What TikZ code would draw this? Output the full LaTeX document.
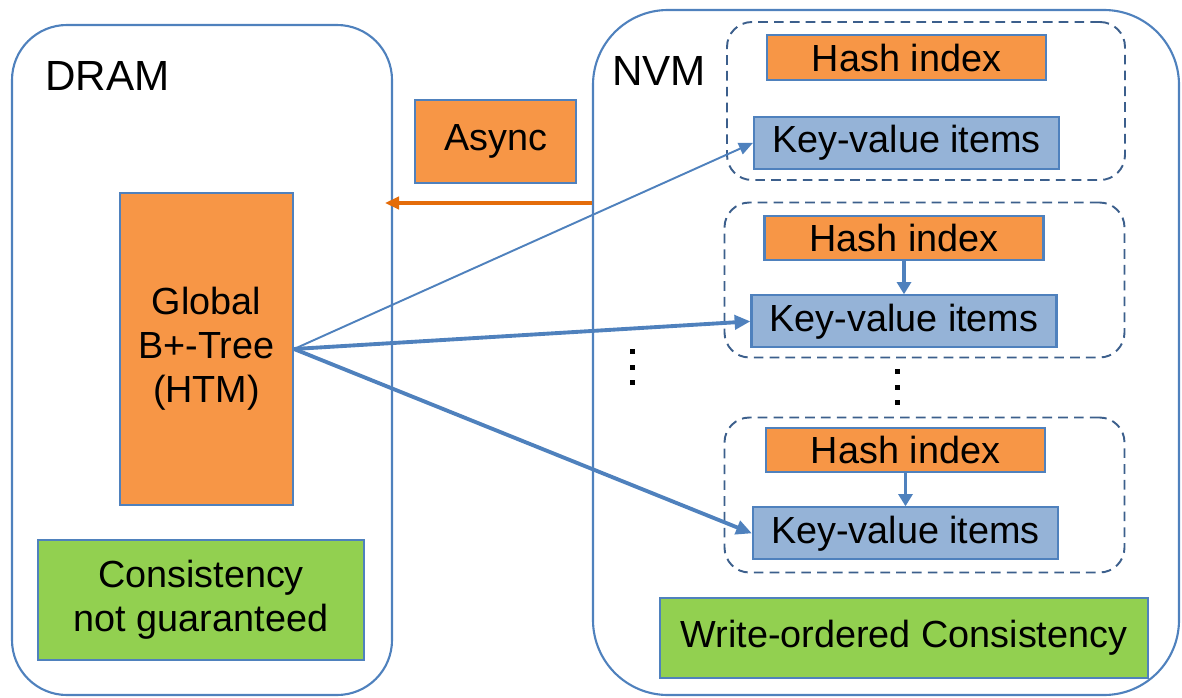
\documentclass[tikz,border=0pt]{standalone}
\usepackage{fontspec}
\setmainfont{Liberation Sans}
\definecolor{MemBlue}{RGB}{79, 129, 189}
\definecolor{GroupBlue}{RGB}{60, 95, 140}
\definecolor{HashOrange}{RGB}{247, 150, 70}
\definecolor{AsyncOrange}{RGB}{228, 108, 10}
\definecolor{ItemBlue}{RGB}{149, 179, 215}
\definecolor{OkGreen}{RGB}{146, 208, 80}
\usetikzlibrary{arrows.meta, positioning}
\tikzset{
  membox/.style={rectangle, draw=MemBlue, line width=1.2pt, inner sep=0pt},
  box/.style={rectangle, draw=MemBlue, fill=#1, line width=1.2pt, inner sep=0pt,
              font=\fontsize{21.5}{25}\selectfont, text=black, align=center},
  grpbox/.style={rectangle, rounded corners=5mm, draw=GroupBlue, dashed,
                 dash pattern=on 5.5pt off 3.5pt, line width=1.1pt,
                 minimum width=80mm, minimum height=31mm, inner sep=0pt},
  hashsz/.style={minimum width=55.8mm, minimum height=8.9mm},
  kvsz/.style={minimum width=61mm, minimum height=10.4mm},
  lbl/.style={font=\fontsize{24}{28}\selectfont, inner sep=0pt},
  arr/.style={-{Triangle[length=8pt, width=7pt]}, color=#1},
  thickarr/.style={-{Triangle[length=9pt, width=8pt]}, color=#1, line width=2.2pt},
  linkarr/.style={-{Triangle[length=7pt, width=8pt]}, color=#1, line width=2pt},
}

\begin{document}
\begin{tikzpicture}[x=0.2mm, y=-0.2mm, node distance=6.6mm]
  \useasboundingbox (0,0) rectangle (1182,698);

  % memories
  \node[membox, rounded corners=11mm, minimum width=76mm, minimum height=134mm] (dram) at (202,360) {};
  \node[membox, rounded corners=15mm, minimum width=117.2mm, minimum height=137mm] (nvm) at (886,352.5) {};
  \node[lbl, anchor=base west] (dramlbl) at (45,90) {DRAM};
  \node[lbl, anchor=base west] (nvmlbl) at (612,85) {NVM};

  % DRAM side
  \node[box=HashOrange, minimum width=34.6mm, minimum height=62.4mm] (tree) at (206.5,349)
        {Global\\B+-Tree\\(HTM)};
  \node[box=OkGreen, minimum width=65.2mm, minimum height=24mm] (nogua) at (201,600)
        {Consistency\\not guaranteed};
  \node[box=HashOrange, minimum width=32.2mm, minimum height=16.6mm] (async) at (495.5,141.5) {Async};

  % NVM side
  \node[grpbox, minimum width=79.6mm, minimum height=31.6mm] (grpa) at (926,101) {};
  \node[grpbox] (grpb) at (924.5,280) {};
  \node[grpbox] (grpc) at (924.5,495) {};

  \node[box=HashOrange, hashsz] (hasha) at (906.5,57.5) {Hash index};
  \node[box=ItemBlue, kvsz, below=7mm of hasha] (kva) {Key-value items};
  \node[box=HashOrange, hashsz] (hashb) at (904,238) {Hash index};
  \node[box=ItemBlue, kvsz, below=of hashb] (kvb) {Key-value items};
  \node[box=HashOrange, hashsz] (hashc) at (905.5,450) {Hash index};
  \node[box=ItemBlue, kvsz, below=of hashc] (kvc) {Key-value items};

  \node[box=OkGreen, minimum width=97.6mm, minimum height=16mm] (wcons) at (904,638)
        {Write-ordered Consistency};

  % dots
  \foreach \k in {0,1,2} {
    \fill (629.5,349+15.5*\k) rectangle ++(5,5);
    \fill (894.5,369+15.5*\k) rectangle ++(5,5);
  }

  % arrows
  \coordinate (asyncend) at (385,203);
  \draw[arr=AsyncOrange, line width=2.4pt] (nvm.west |- asyncend) -- (asyncend);
  \draw[arr=MemBlue, line width=1.1pt] (tree.east) -- (kva.west);
  \draw[thickarr=MemBlue] (tree.east) -- (kvb.west);
  \draw[thickarr=MemBlue] (tree.east) -- (kvc.west);
  \draw[linkarr=MemBlue] (hashb) -- (kvb);
  \draw[linkarr=MemBlue] (hashc) -- (kvc);
\end{tikzpicture}
\end{document}
